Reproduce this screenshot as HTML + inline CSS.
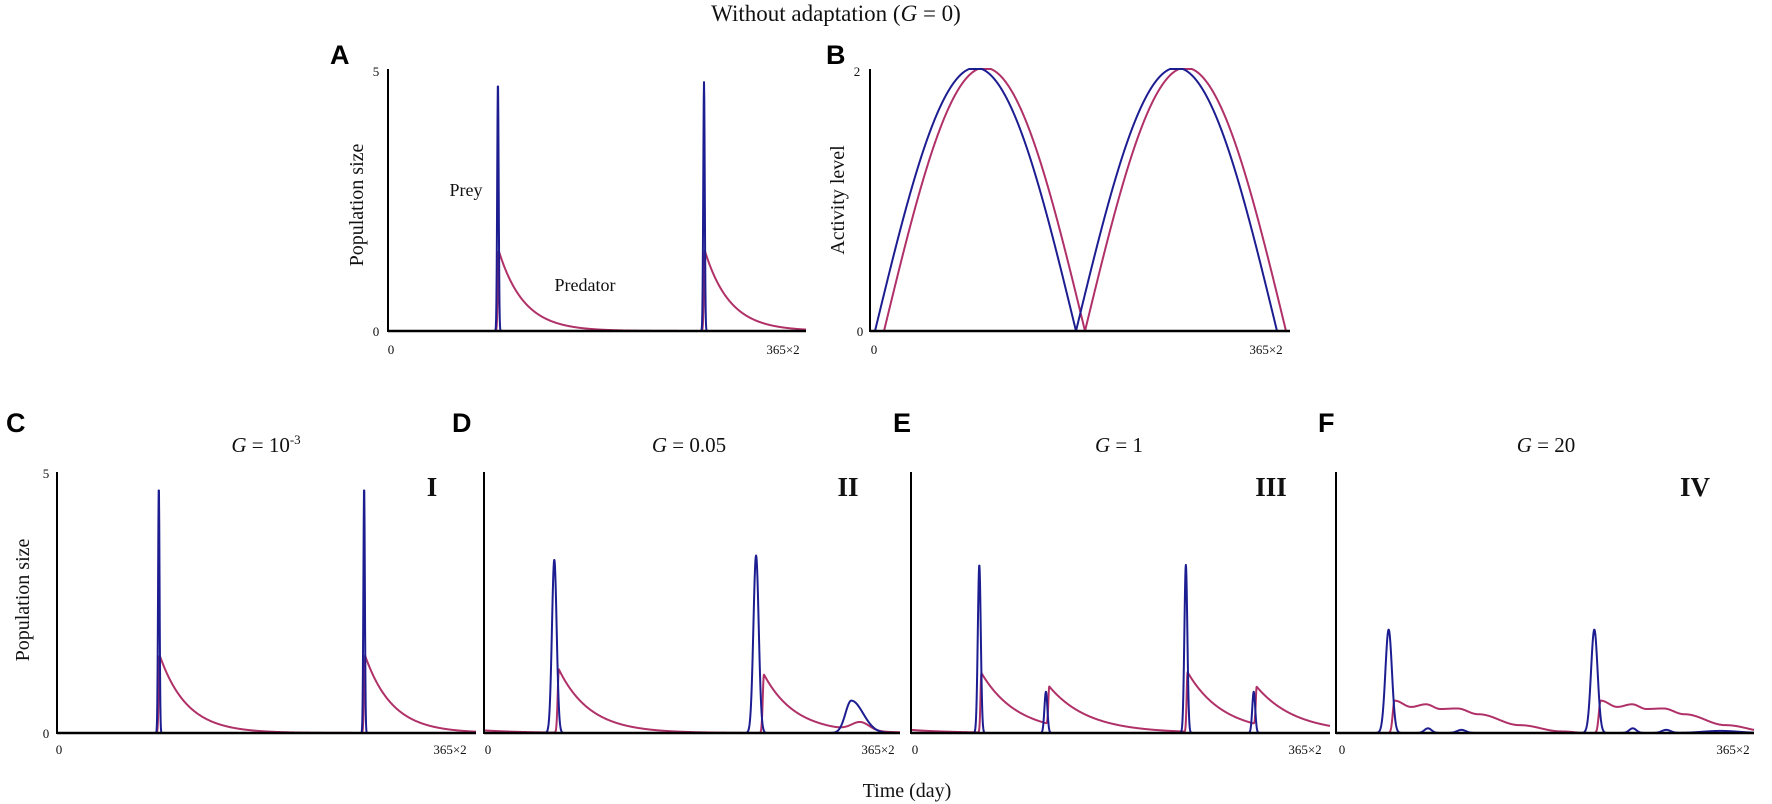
<!DOCTYPE html>
<html><head><meta charset="utf-8">
<style>
html,body{margin:0;padding:0;background:#fff;}
body{width:1772px;height:804px;overflow:hidden;position:relative;}
svg{position:absolute;left:0;top:0;}
.t{font-family:"Liberation Serif",serif;fill:#111;}
.L{font-family:"Liberation Sans",sans-serif;font-weight:bold;font-size:27px;fill:#000;}
</style></head><body>
<svg id="s" width="1772" height="804" viewBox="0 0 1772 804" xmlns="http://www.w3.org/2000/svg">
<text class="t" x="836" y="21" font-size="23" text-anchor="middle">Without adaptation (<tspan font-style="italic">G</tspan> = 0)</text>
<text class="L" x="330" y="64">A</text>
<text class="L" x="826" y="64">B</text>
<text class="L" x="6" y="432">C</text>
<text class="L" x="452" y="432">D</text>
<text class="L" x="893" y="432">E</text>
<text class="L" x="1318" y="432">F</text>
<text class="t" font-size="20" text-anchor="middle" transform="translate(363,205) rotate(-90)">Population size</text>
<text class="t" font-size="20" text-anchor="middle" transform="translate(844,200) rotate(-90)">Activity level</text>
<text class="t" font-size="20" text-anchor="middle" transform="translate(29,600) rotate(-90)">Population size</text>
<text class="t" x="907" y="797" font-size="20" text-anchor="middle">Time (day)</text>
<text class="t" x="466" y="196" font-size="18" text-anchor="middle">Prey</text>
<text class="t" x="585" y="291" font-size="18" text-anchor="middle">Predator</text>
<text class="t" x="376" y="76" font-size="13" text-anchor="middle">5</text>
<text class="t" x="376" y="336" font-size="13" text-anchor="middle">0</text>
<text class="t" x="391" y="354" font-size="13" text-anchor="middle">0</text>
<text class="t" x="783" y="354" font-size="13" text-anchor="middle">365×2</text>
<text class="t" x="857" y="76" font-size="13" text-anchor="middle">2</text>
<text class="t" x="860" y="336" font-size="13" text-anchor="middle">0</text>
<text class="t" x="874" y="354" font-size="13" text-anchor="middle">0</text>
<text class="t" x="1266" y="354" font-size="13" text-anchor="middle">365×2</text>
<text class="t" x="46" y="478" font-size="13" text-anchor="middle">5</text>
<text class="t" x="46" y="738" font-size="13" text-anchor="middle">0</text>
<text class="t" x="59" y="754" font-size="13" text-anchor="middle">0</text>
<text class="t" x="450" y="754" font-size="13" text-anchor="middle">365×2</text>
<text class="t" x="488" y="754" font-size="13" text-anchor="middle">0</text>
<text class="t" x="878" y="754" font-size="13" text-anchor="middle">365×2</text>
<text class="t" x="915" y="754" font-size="13" text-anchor="middle">0</text>
<text class="t" x="1305" y="754" font-size="13" text-anchor="middle">365×2</text>
<text class="t" x="1342" y="754" font-size="13" text-anchor="middle">0</text>
<text class="t" x="1733" y="754" font-size="13" text-anchor="middle">365×2</text>
<text class="t" x="266" y="452" font-size="21" text-anchor="middle"><tspan font-style="italic">G</tspan> = 10<tspan font-size="13" dy="-8">-3</tspan></text>
<text class="t" x="689" y="452" font-size="21" text-anchor="middle"><tspan font-style="italic">G</tspan> = 0.05</text>
<text class="t" x="1119" y="452" font-size="21" text-anchor="middle"><tspan font-style="italic">G</tspan> = 1</text>
<text class="t" x="1546" y="452" font-size="21" text-anchor="middle"><tspan font-style="italic">G</tspan> = 20</text>
<text class="t" x="432" y="496" font-size="27" font-weight="bold" text-anchor="middle">I</text>
<text class="t" x="848" y="496" font-size="27" font-weight="bold" text-anchor="middle">II</text>
<text class="t" x="1271" y="496" font-size="27" font-weight="bold" text-anchor="middle">III</text>
<text class="t" x="1695" y="496" font-size="27" font-weight="bold" text-anchor="middle">IV</text>
<g id="g"></g>
</svg>
<script>
var g=document.getElementById('g');var NS='http://www.w3.org/2000/svg';
function el(n,a){var e=document.createElementNS(NS,n);for(var k in a)e.setAttribute(k,a[k]);g.appendChild(e);return e;}
function gs(f,c,w,h){var d=(f-c)/w;return h*Math.exp(-d*d);}
function pred(f,c,p,tau,rise){var t=f-c;if(t<0)return p*Math.exp(-Math.pow(t/rise,2));return p*Math.exp(-t/tau);}
function interp(pts,t){if(t<=pts[0][0])return pts[0][1];for(var i=1;i<pts.length;i++){if(t<=pts[i][0]){var a=pts[i-1],b=pts[i];var u=(t-a[0])/(b[0]-a[0]);u=(1-Math.cos(Math.PI*u))/2;return a[1]+(b[1]-a[1])*u;}}return pts[pts.length-1][1];}
function panel(P){
  P.curves.forEach(function(cv){
    var d='';var N=1500;
    for(var i=0;i<=N;i++){var f=i/N;var v=cv.fn(f);if(v>P.vmax)v=P.vmax;var x=P.x0+f*(P.x1-P.x0);var y=P.yb-v/P.vmax*(P.yb-P.yt);d+=(i?'L':'M')+x.toFixed(2)+' '+y.toFixed(2);}
    el('path',{d:d,fill:'none',stroke:cv.c,'stroke-width':2,'stroke-linejoin':'round'});
  });
  el('line',{x1:P.x0,y1:P.yt,x2:P.x0,y2:P.yb+1,stroke:'#000','stroke-width':2});
  el('line',{x1:P.x0,y1:P.yb,x2:P.x1,y2:P.yb,stroke:'#000','stroke-width':2.5});
}
var B='#1d1d92',R='#b03068';
panel({x0:388,x1:806,yt:69,yb:331,vmax:5,curves:[
 {c:R,fn:function(f){return pred(f,0.265,1.53,0.06,0.003)+pred(f,0.758,1.53,0.06,0.003);}},
 {c:B,fn:function(f){return gs(f,0.263,0.0025,4.75)+gs(f,0.756,0.0025,4.75);}}]});
(function(){var x0=870,x1=1290;var L=x1-x0;var P=201;
 function hump(xx,s){if(xx<s||xx>s+2*P)return 0;var v=2.01*Math.abs(Math.sin(Math.PI*(xx-s)/P));return Math.min(v,2);}
 panel({x0:x0,x1:x1,yt:69,yb:331,vmax:2,curves:[
  {c:R,fn:function(f){return hump(f*L,14);}},
  {c:B,fn:function(f){return hump(f*L,5);}}]});})();
panel({x0:57,x1:476,yt:472,yb:733,vmax:5,curves:[
 {c:R,fn:function(f){return pred(f,0.245,1.49,0.065,0.003)+pred(f,0.735,1.49,0.065,0.003);}},
 {c:B,fn:function(f){return gs(f,0.243,0.0025,4.73)+gs(f,0.733,0.0025,4.73);}}]});
panel({x0:484,x1:900,yt:472,yb:733,vmax:5,curves:[
 {c:R,fn:function(f){return 0.05*Math.exp(-f/0.1)+pred(f,0.18,1.21,0.075,0.004)+pred(f,0.673,1.12,0.075,0.004)+gs(f,0.905,0.03,0.16);}},
 {c:B,fn:function(f){return gs(f,0.169,0.008,3.32)+gs(f,0.654,0.009,3.4)+(f<0.883?gs(f,0.883,0.02,0.62):gs(f,0.883,0.04,0.62));}}]});
panel({x0:911,x1:1330,yt:472,yb:733,vmax:5,curves:[
 {c:R,fn:function(f){return 0.06*Math.exp(-f/0.1)+pred(f,0.168,1.14,0.085,0.003)+pred(f,0.33,0.72,0.095,0.003)+pred(f,0.66,1.14,0.085,0.003)+pred(f,0.825,0.72,0.095,0.003);}},
 {c:B,fn:function(f){return gs(f,0.163,0.005,3.22)+gs(f,0.322,0.005,0.79)+gs(f,0.656,0.005,3.22)+gs(f,0.818,0.005,0.79);}}]});
(function(){var pts=[[0,0.62],[0.04,0.5],[0.075,0.55],[0.11,0.46],[0.15,0.47],[0.2,0.36],[0.3,0.15],[0.4,0.03],[0.46,0]];
 function pr(f,c){var t=f-c;if(t<0)return 0.62*Math.exp(-Math.pow(t/0.006,2));return interp(pts,t);}
 panel({x0:1336,x1:1754,yt:472,yb:733,vmax:5,curves:[
  {c:R,fn:function(f){return pr(f,0.14)+pr(f,0.633);}},
  {c:B,fn:function(f){return gs(f,0.126,0.011,1.98)+gs(f,0.618,0.011,1.98)+gs(f,0.22,0.012,0.09)+gs(f,0.3,0.015,0.06)+gs(f,0.71,0.012,0.09)+gs(f,0.79,0.015,0.06)+gs(f,0.92,0.06,0.04);}}]});})();
</script>
</body></html>
